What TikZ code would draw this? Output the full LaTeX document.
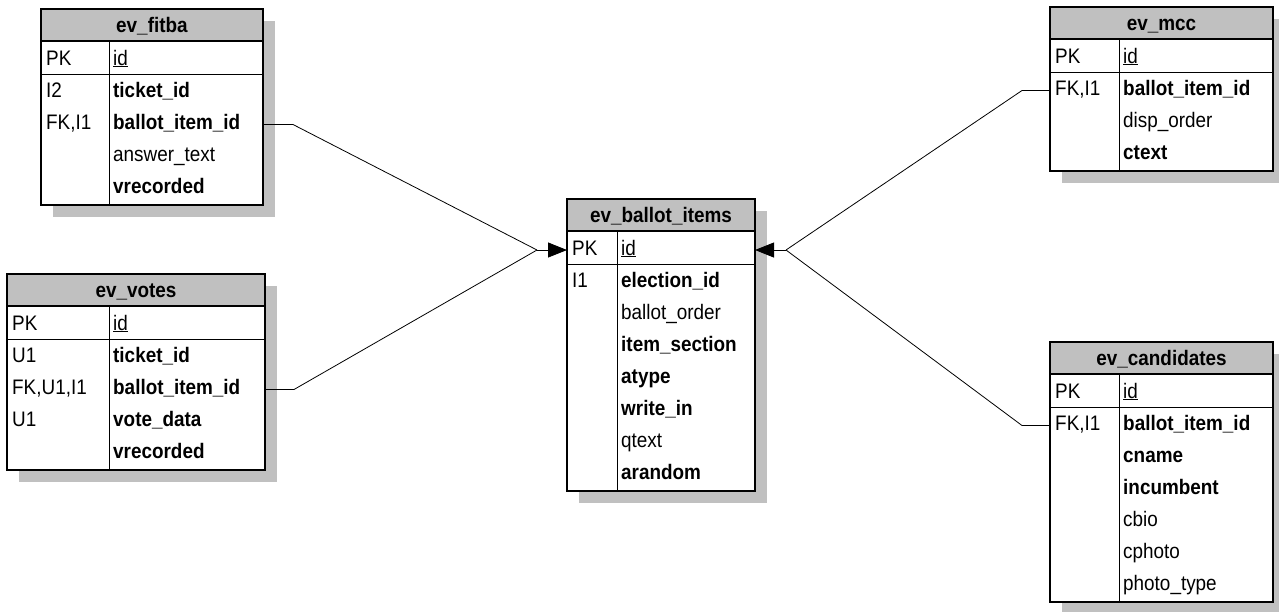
\documentclass[tikz,border=0pt]{standalone}
\usepackage{fontspec}
\setmainfont[FakeStretch=0.9]{Liberation Sans}
\usetikzlibrary{shadows,arrows.meta}
\definecolor{hdrgray}{HTML}{C0C0C0}
\definecolor{shadowgray}{HTML}{C0C0C0}
\newcommand\erfont{\fontsize{21}{24}\selectfont}
\newcommand\ertable[7]{%
  % #1 name, #2 left x, #3 right x, #4 divider x, #5 top y, #6 rows, #7 title
  \def\ername{#1}\def\erx{#2}\def\erd{#4}\def\ery{#5}%
  \pgfmathsetmacro\erh{68+#6*32}%
  \pgfmathsetmacro\erw{#3-#2}%
  \node[tablebox, minimum width=\erw pt, minimum height=\erh pt] (#1) at (#2,#5) {};
  \node[headbox, minimum width=\erw pt] (#1-h) at (#2,#5) {\textbf{#7}};
  \draw[sepline] (#2,#5+65) -- (#3,#5+65);
  \draw[sepline] (#4,#5+32) -- (#4,#5+\erh);
  \node[rowtext] (#1-pk) at (#2+5,#5+48.5+7.5) {PK};
  \node[rowtext] (#1-id) at (#4+4,#5+48.5+7.5) {\underline{id}};
}
\newcommand\errow[3]{%
  \node[rowtext] (\ername-k#1) at (\erx+5,\ery+49+32*#1+7.5) {#2};
  \node[rowtext] (\ername-f#1) at (\erd+4,\ery+49+32*#1+7.5) {#3};
}
\begin{document}
\begin{tikzpicture}[x=1pt,y=-1pt,
  tablebox/.style={draw, fill=white, line width=1.2pt, inner sep=0pt, outer sep=0pt,
    anchor=north west,
    general shadow={fill=shadowgray, shadow xshift=12pt, shadow yshift=-12pt}},
  headbox/.style={draw, fill=hdrgray, line width=1.2pt, inner sep=0pt, outer sep=0pt,
    anchor=north west, minimum height=32pt, font=\erfont, text height=15pt, text depth=0pt},
  sepline/.style={line width=0.9pt},
  rowtext/.style={anchor=base west, inner sep=0pt, font=\erfont, text height=15pt, text depth=5pt},
  conn/.style={line width=0.8pt},
  tip/.style={-{Triangle[length=19pt,width=15pt]}}
]
\useasboundingbox (0,0) rectangle (1279,611);

% ev_fitba
\ertable{fitba}{41}{263}{109}{9}{4}{ev\_fitba}
\errow{1}{I2}{\textbf{ticket\_id}}
\errow{2}{FK,I1}{\textbf{ballot\_item\_id}}
\errow{3}{}{answer\_text}
\errow{4}{}{\textbf{vrecorded}}

% ev_votes
\ertable{votes}{7}{265}{109}{274}{4}{ev\_votes}
\errow{1}{U1}{\textbf{ticket\_id}}
\errow{2}{FK,U1,I1}{\textbf{ballot\_item\_id}}
\errow{3}{U1}{\textbf{vote\_data}}
\errow{4}{}{\textbf{vrecorded}}

% ev_ballot_items
\ertable{bi}{567}{755}{617}{199}{7}{ev\_ballot\_items}
\errow{1}{I1}{\textbf{election\_id}}
\errow{2}{}{ballot\_order}
\errow{3}{}{\textbf{item\_section}}
\errow{4}{}{\textbf{atype}}
\errow{5}{}{\textbf{write\_in}}
\errow{6}{}{qtext}
\errow{7}{}{\textbf{arandom}}

% ev_mcc
\ertable{mcc}{1050}{1273}{1119}{7}{3}{ev\_mcc}
\errow{1}{FK,I1}{\textbf{ballot\_item\_id}}
\errow{2}{}{disp\_order}
\errow{3}{}{\textbf{ctext}}

% ev_candidates
\ertable{cand}{1050}{1273}{1119}{342}{6}{ev\_candidates}
\errow{1}{FK,I1}{\textbf{ballot\_item\_id}}
\errow{2}{}{\textbf{cname}}
\errow{3}{}{\textbf{incumbent}}
\errow{4}{}{cbio}
\errow{5}{}{cphoto}
\errow{6}{}{photo\_type}

% connectors
\coordinate (jl) at ([xshift=-30pt]bi.west |- bi-pk);
\coordinate (jr) at ([xshift=31pt]bi.east |- bi-pk);
\draw[conn] (fitba.east |- fitba-f2) -- ++(30,0) -- (jl);
\draw[conn] (votes.east |- votes-f2) -- ++(29,0) -- (jl);
\draw[conn, tip] (jl) -- (bi.west |- bi-pk);
\draw[conn, tip] (jr) -- (bi.east |- bi-pk);
\draw[conn] (jr) -- ([xshift=-28pt]mcc.west |- mcc-f1) -- (mcc.west |- mcc-f1);
\draw[conn] (jr) -- ([xshift=-28pt]cand.west |- cand-f1) -- (cand.west |- cand-f1);
\end{tikzpicture}
\end{document}
